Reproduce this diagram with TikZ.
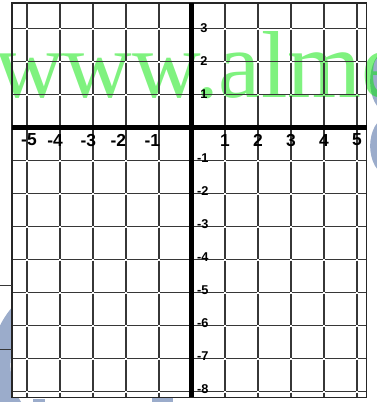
\documentclass[tikz,border=0pt]{standalone}
\usepackage{fontspec}
\setmainfont{Liberation Serif}
\setsansfont{Liberation Sans}
\usetikzlibrary{positioning}
\definecolor{wmgreen}{RGB}{0,230,0}
\definecolor{wmgray}{RGB}{155,172,203}
\definecolor{gridgray}{RGB}{55,55,55}

\begin{document}
\begin{tikzpicture}[x=1cm,y=1cm,
  gridline/.style={draw=gridgray,line width=1.4pt},
  axisline/.style={draw=black,line width=4.3pt},
  framebox/.style={draw=black!85,line width=1.6pt},
  xnum/.style={font=\sffamily\bfseries\fontsize{15}{15}\selectfont,inner sep=0pt},
  ynum/.style={font=\sffamily\bfseries\fontsize{11}{11}\selectfont,inner sep=0pt},
  wmark/.style={text=wmgreen,text opacity=0.5,font=\fontsize{82}{82}\selectfont,inner sep=0pt}]
  \useasboundingbox (-5.818,-8.318) rectangle (5.606,3.864);

  % faint grey letters behind the sheet
  \fill[wmgray] (5.85,1.40) ellipse[x radius=0.45,y radius=0.88];
  \fill[wmgray] (5.90,-0.56) ellipse[x radius=0.50,y radius=0.85];
  \draw[wmgray,line width=17pt] ([shift={(95:2.4)}]-3.40,-7.2) arc[start angle=95,end angle=215,radius=2.4];
  \fill[wmgray] (-4.82,-8.22) rectangle (-4.45,-8.318);
  \fill[wmgray] (-1.21,-8.20) rectangle (-0.58,-8.318);
  \fill[white] (-5.45,-8.18) rectangle (5.29,3.77);

  % green watermark
  \node[wmark,anchor=base west] (wm) at (-5.97,0.92) {www.alme};

  % grid
  \draw[gridline,dash pattern=on 0.94cm off 0.06cm,dash phase=0.52cm]
    \foreach \y in {-8,...,3} {(-5.45,\y) -- (5.29,\y)};
  \draw[gridline,dash pattern=on 0.94cm off 0.06cm,dash phase=0.20cm]
    \foreach \x in {-5,...,5} {(\x,3.77) -- (\x,-8.18)};
  \draw[framebox] (-5.45,-8.18) rectangle (5.29,3.77);
  \draw[gridgray,line width=0.9pt] (-5.818,-4.80) -- (-5.45,-4.80);
  \draw[gridgray,line width=0.9pt] (-5.818,-6.74) -- (-5.45,-6.74);

  % axes
  \draw[axisline] (-5.45,0) -- (5.29,0);
  \draw[axisline] (0,3.77) -- (0,-8.18);

  % numbers
  \foreach \n/\p in {-5/-4.94,-4/-4.15,-3/-3.14,-2/-2.23,-1/-1.2}
    \node[xnum] (xl\n) at (\p,-0.38) {-\the\numexpr-\n\relax};
  \foreach \n in {1,...,5}
    \node[xnum] (xl\n) at (\n,-0.38) {\n};
  \foreach \n in {1,2,3}
    \node[ynum] (yl\n) at (0.36,\n) {\n};
  \foreach \n in {-1,...,-8}
    \node[ynum] (yl\n) at (0.33,\n+0.07) {-\the\numexpr-\n\relax};
\end{tikzpicture}
\end{document}
